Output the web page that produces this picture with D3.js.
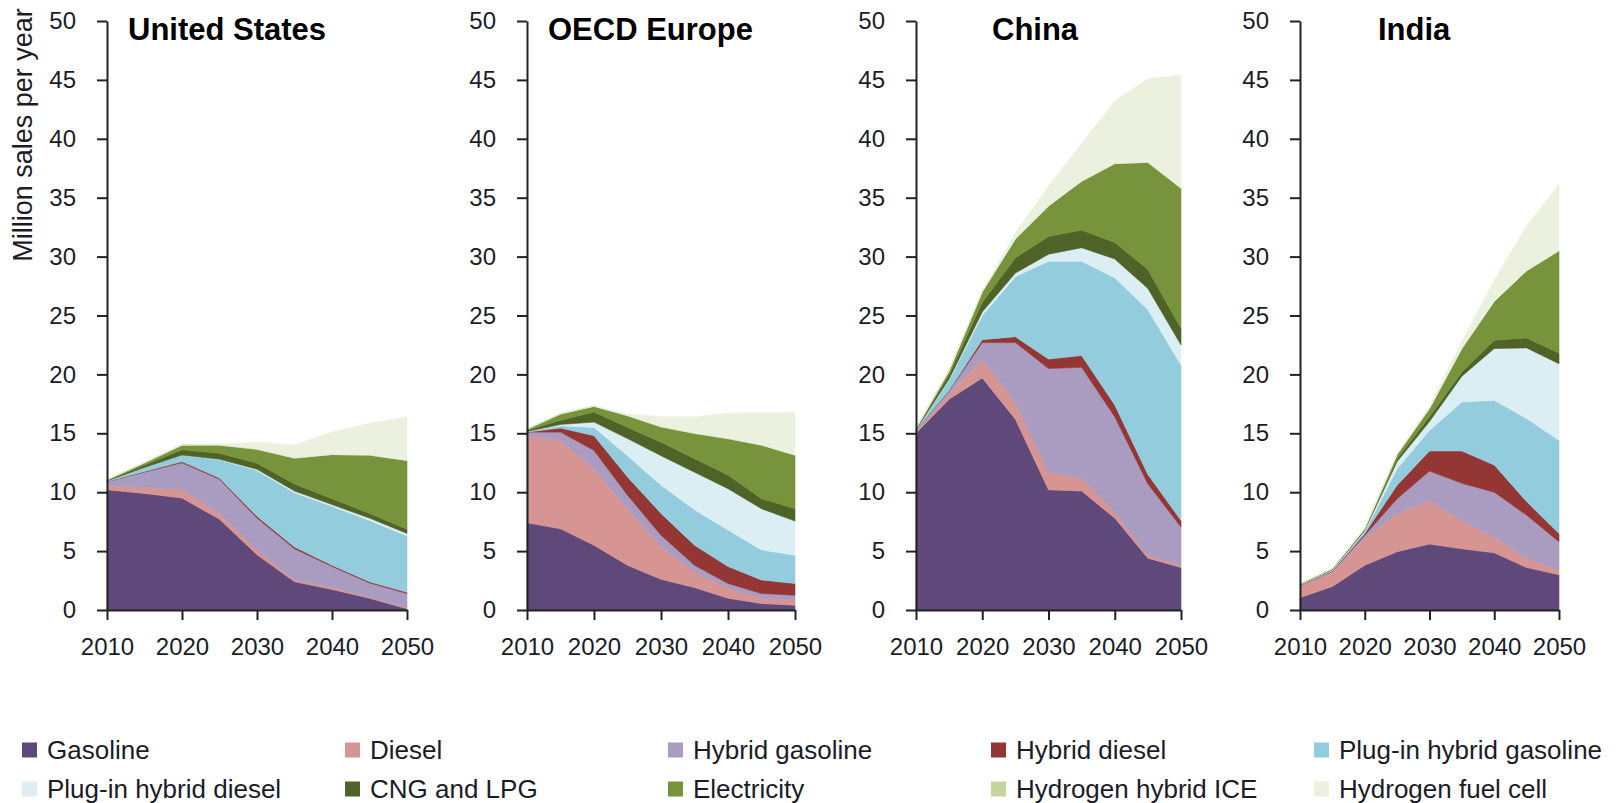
<!DOCTYPE html>
<html>
<head>
<meta charset="utf-8">
<script src="https://cdn.jsdelivr.net/npm/d3@7/dist/d3.min.js"></script>
<style>
body { margin: 0; background: #fff; }
text { font-family: "Liberation Sans", Arial, sans-serif; fill: #1c1c28; }
</style>
</head>
<body>
<div id="chart"></div>
<script>

var years = [2010, 2015, 2020, 2025, 2030, 2035, 2040, 2045, 2050];

var fuels = ["Gasoline", "Diesel", "Hybrid gasoline", "Hybrid diesel", "Plug-in hybrid gasoline",
             "Plug-in hybrid diesel", "CNG and LPG", "Electricity", "Hydrogen hybrid ICE", "Hydrogen fuel cell"];

var colors = ["#5f497a", "#d69593", "#aa9bc0", "#943634", "#93cddd",
              "#dbeef4", "#4f6228", "#77933c", "#c3d69b", "#ebf1de"];

var regions = ["United States", "OECD Europe", "China", "India"];

var yTicks = [0, 5, 10, 15, 20, 25, 30, 35, 40, 45, 50];
var xTicks = [2010, 2020, 2030, 2040, 2050];

// million sales per year, one row per fuel (same order as fuels), one value per year
var salesUS = [
    [10.2, 9.9, 9.5, 7.7, 4.7, 2.4, 1.75, 1.0, 0.1],
    [0.4, 0.5, 0.75, 0.5, 0.4, 0.15, 0.15, 0.1, 0.1],
    [0.3, 1.3, 2.25, 2.9, 2.7, 2.65, 1.8, 1.2, 1.2],
    [0, 0.05, 0.1, 0.1, 0.15, 0.15, 0.1, 0.1, 0.1],
    [0.05, 0.35, 0.55, 1.55, 3.9, 4.6, 5.0, 5.2, 4.8],
    [0, 0, 0, 0.05, 0.1, 0.15, 0.15, 0.2, 0.2],
    [0.05, 0.2, 0.45, 0.5, 0.5, 0.6, 0.5, 0.4, 0.35],
    [0.05, 0.2, 0.4, 0.7, 1.2, 2.2, 3.75, 4.95, 5.85],
    [0, 0, 0, 0, 0, 0, 0, 0, 0],
    [0, 0, 0, 0.1, 0.6, 1.1, 1.9, 2.7, 3.7]
];

var salesEurope = [
    [7.4, 6.9, 5.5, 3.8, 2.6, 1.9, 1.0, 0.55, 0.4],
    [7.4, 7.5, 6.5, 4.8, 2.8, 1.35, 0.85, 0.45, 0.45],
    [0.3, 0.7, 1.55, 1.15, 0.95, 0.55, 0.4, 0.4, 0.4],
    [0, 0.35, 1.25, 1.55, 1.85, 1.7, 1.45, 1.15, 1.0],
    [0.05, 0.2, 0.7, 1.8, 2.4, 3.0, 3.1, 2.55, 2.4],
    [0, 0.1, 0.45, 1.45, 2.5, 3.2, 3.5, 3.5, 2.9],
    [0.1, 0.35, 0.85, 0.95, 1.15, 1.15, 1.15, 0.85, 1.05],
    [0.1, 0.55, 0.5, 1.0, 1.3, 2.15, 3.1, 4.55, 4.55],
    [0, 0, 0, 0, 0, 0, 0, 0, 0],
    [0, 0, 0, 0.15, 0.85, 1.4, 2.15, 2.75, 3.6]
];

var salesChina = [
    [15.0, 17.9, 19.7, 16.2, 10.2, 10.1, 7.8, 4.4, 3.6],
    [0.1, 0.45, 1.6, 1.45, 1.5, 1.1, 0.5, 0.25, 0.2],
    [0.15, 0.25, 1.4, 5.05, 8.8, 9.4, 8.1, 6.05, 3.25],
    [0, 0.05, 0.25, 0.5, 0.8, 1.0, 1.0, 0.8, 0.55],
    [0.05, 0.85, 2.05, 5.1, 8.3, 8.0, 10.8, 14.0, 13.2],
    [0, 0.1, 0.3, 0.3, 0.6, 1.15, 1.6, 1.8, 1.7],
    [0.05, 0.4, 0.8, 1.3, 1.5, 1.5, 1.4, 1.6, 1.4],
    [0.05, 0.3, 0.9, 1.6, 2.6, 4.15, 6.7, 9.1, 11.9],
    [0, 0, 0, 0, 0, 0, 0, 0, 0],
    [0, 0, 0.1, 0.5, 1.7, 3.2, 5.3, 7.1, 9.6]
];

var salesIndia = [
    [1.05, 2.0, 3.8, 4.95, 5.6, 5.2, 4.85, 3.6, 3.0],
    [1.05, 1.2, 2.3, 3.25, 3.7, 2.4, 1.35, 0.8, 0.4],
    [0, 0.05, 0.25, 1.25, 2.5, 3.15, 3.8, 3.65, 2.4],
    [0, 0.05, 0.15, 1.15, 1.7, 2.75, 2.3, 1.15, 0.7],
    [0.05, 0.05, 0.15, 1.4, 1.75, 4.15, 5.5, 7.05, 7.9],
    [0, 0.05, 0.1, 0.6, 0.75, 2.2, 4.4, 6.0, 6.5],
    [0.05, 0.05, 0.1, 0.25, 0.4, 0.35, 0.7, 0.85, 0.9],
    [0, 0.05, 0.05, 0.35, 0.7, 2.0, 3.3, 5.7, 8.7],
    [0, 0, 0, 0, 0, 0, 0, 0, 0],
    [0, 0, 0.05, 0.1, 0.2, 0.6, 1.8, 3.8, 5.6]
];

var allSales = [salesUS, salesEurope, salesChina, salesIndia];

// layout
var width = 1618, height = 803;
var panels = [
    {x0: 107, x1: 407, titleX: 128},
    {x0: 527, x1: 795, titleX: 548},
    {x0: 916, x1: 1181, titleX: 992},
    {x0: 1300, x1: 1559, titleX: 1378}
];

var svg = d3.select("#chart")
    .append("svg")
    .attr("width", width)
    .attr("height", height);

var y = d3.scaleLinear().domain([0, 50]).range([610, 21]);

var stack = d3.stack()
    .keys(fuels)
    .order(d3.stackOrderNone)
    .offset(d3.stackOffsetNone);

panels.forEach(function(p, r) {
    var x = d3.scaleLinear().domain([2010, 2050]).range([p.x0, p.x1]);

    var table = years.map(function(yr, i) {
        var row = {year: yr};
        fuels.forEach(function(f, k) { row[f] = allSales[r][k][i]; });
        return row;
    });

    var area = d3.area()
        .x(function(d) { return x(d.data.year); })
        .y0(function(d) { return y(d[0]); })
        .y1(function(d) { return y(d[1]); });

    var g = svg.append("g");

    g.selectAll("path.layer")
        .data(stack(table))
        .enter()
        .append("path")
        .attr("class", "layer")
        .attr("d", area)
        .style("fill", function(d, i) { return colors[i]; })
        .style("stroke", function(d, i) { return colors[i]; })
        .style("stroke-width", 0.6);

    var yAxis = g.append("g")
        .attr("transform", "translate(" + p.x0 + ",0)")
        .call(d3.axisLeft(y).tickValues(yTicks).tickSize(10).tickSizeOuter(0).tickPadding(21));

    var xAxis = g.append("g")
        .attr("transform", "translate(0," + y(0) + ")")
        .call(d3.axisBottom(x).tickValues(xTicks).tickFormat(d3.format("d"))
              .tickSize(10).tickSizeOuter(0).tickPadding(18));

    [yAxis, xAxis].forEach(function(a) {
        a.selectAll("path, line").style("stroke", "#222").style("stroke-width", 2);
        a.selectAll("text").style("font-size", "24px").style("fill", "#1c1c28")
            .style("font-family", "'Liberation Sans', Arial, sans-serif");
    });

    g.append("text")
        .attr("x", p.titleX)
        .attr("y", 40)
        .style("font-size", "31px")
        .style("font-weight", "bold")
        .style("fill", "#000")
        .text(regions[r]);
});

svg.append("text")
    .attr("transform", "translate(32,135) rotate(-90)")
    .attr("text-anchor", "middle")
    .style("font-size", "27px")
    .text("Million sales per year");

// legend, two rows of five
var legend = svg.append("g")
    .selectAll("g")
    .data(fuels)
    .enter()
    .append("g")
    .attr("transform", function(d, i) {
        return "translate(" + (22 + (i % 5) * 323) + "," + (i < 5 ? 750 : 789) + ")";
    });

legend.append("rect")
    .attr("x", 0)
    .attr("y", -7.5)
    .attr("width", 15)
    .attr("height", 15)
    .style("fill", function(d, i) { return colors[i]; });

legend.append("text")
    .attr("x", 25)
    .attr("dy", "0.35em")
    .style("font-size", "26px")
    .text(function(d) { return d; });

</script>
</body>
</html>
